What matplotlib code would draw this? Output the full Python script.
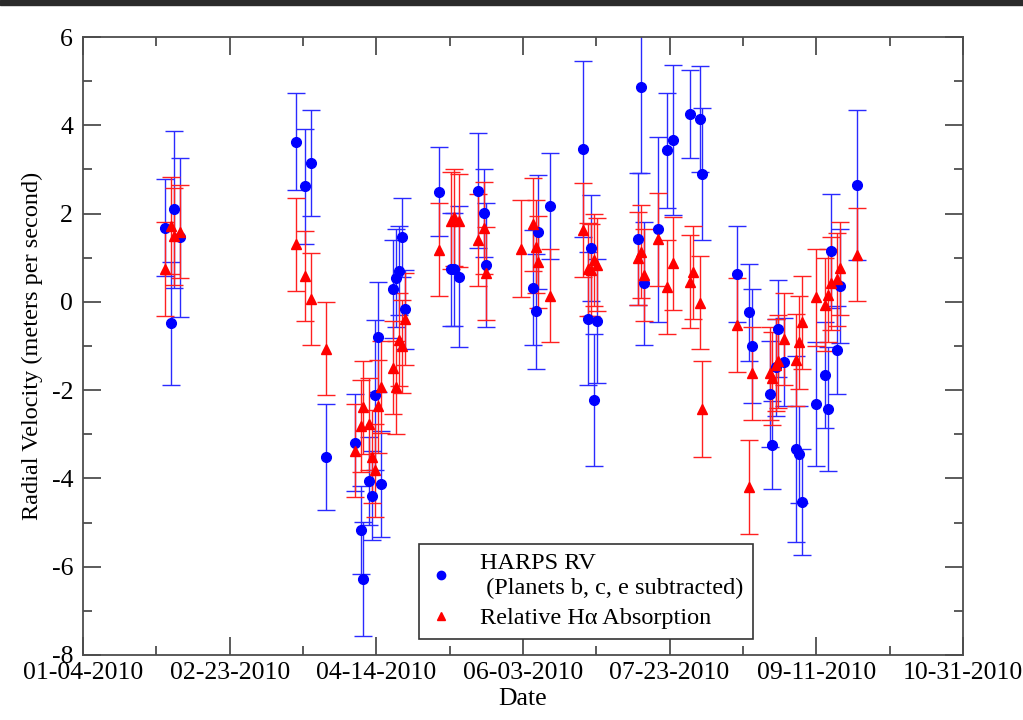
import numpy as np
import pandas as pd
import matplotlib
matplotlib.use("Agg")
import matplotlib.pyplot as plt
import matplotlib.dates as mdates
from matplotlib.ticker import MultipleLocator, FixedLocator
from matplotlib.lines import Line2D

# days after 2010-01-04 for each spectrum
days = [27.8, 30.0, 31.0, 33.1,
        72.7, 75.7, 77.8, 82.9,
        92.7, 94.8, 95.6, 97.6, 98.7, 99.5, 100.7, 101.7, 105.6, 106.8, 107.8, 108.6, 109.8,
        121.5, 125.6, 126.5, 128.3, 134.6, 136.6, 137.5, 149.4, 153.4, 154.3, 155.2, 159.3,
        170.3, 172.3, 173.2, 174.3, 175.4, 189.3, 190.1, 191.3, 196.1, 199.2, 201.2, 207.1, 208.0, 210.3, 211.1,
        223.1, 227.1, 228.1, 234.1, 235.0, 236.1, 237.1, 239.1, 243.1, 244.0, 245.1, 250.0, 252.9, 254.1, 255.1, 257.0, 258.2, 264.0]

rv = [1.68, -0.49, 2.10, 1.46,
      3.63, 2.62, 3.14, -3.51,
      -3.19, -5.17, -6.28, -4.06, -4.39, -2.12, -0.79, -4.12, 0.29, 0.54, 0.71, 1.46, -0.17,
      2.50, 0.74, 0.74, 0.57, 2.52, 2.01, 0.84, np.nan, 0.32, -0.21, 1.58, 2.18,
      3.46, -0.38, 1.21, -2.22, -0.43, 1.42, 4.86, 0.42, 1.64, 3.43, 3.67, 4.26, np.nan, 4.14, 2.89,
      0.63, -0.24, -1.00, -2.09, -3.24, -1.48, -0.61, -1.37, -3.33, -3.45, -4.53, -2.31, -1.66, -2.43, 1.15, -1.09, 0.36, 2.64]

rv_err = [1.1, 1.4, 1.78, 1.8,
          1.1, 1.3, 1.2, 1.2,
          1.1, 1.0, 1.3, 1.0, 1.0, 1.7, 1.25, 1.2, 1.1, 1.1, 1.0, 0.9, 0.9,
          1.0, 1.28, 1.28, 1.6, 1.3, 1.0, 1.4, np.nan, 1.3, 1.3, 1.3, 1.2,
          2.0, 1.5, 1.2, 1.5, 1.4, 1.5, 1.95, 1.4, 2.1, 1.3, 1.7, 1.0, np.nan, 1.2, 1.5,
          1.08, 1.09, 1.3, 1.2, 1.0, 1.1, 1.1, 1.0, 2.1, 1.1, 1.2, 1.4, 1.2, 1.4, 1.3, 1.0, 1.3, 1.7]

halpha = [0.74, 1.72, 1.49, 1.59,
          1.30, 0.58, 0.06, -1.06,
          -3.37, -2.81, -2.39, -2.77, -3.51, -3.82, -2.37, -1.93, -1.49, -1.94, -0.86, -1.01, -0.39,
          1.18, 1.84, 1.92, 1.84, 1.40, 1.67, 0.65, 1.20, 1.76, 1.25, 0.90, 0.14,
          1.63, 0.74, 0.72, 0.95, 0.84, 0.99, 1.14, 0.61, 1.42, 0.34, 0.87, 0.46, 0.67, -0.02, -2.43,
          -0.53, -4.20, -1.62, -1.62, -1.73, -1.43, -1.35, -0.84, -1.32, -0.92, -0.46, 0.10, -0.06, 0.15, 0.42, 0.51, 0.76, 1.07]

halpha_err = [1.07, 1.1, 1.1, 1.05,
              1.05, 1.02, 1.04, 1.05,
              1.05, 1.05, 1.05, 1.05, 1.05, 1.05, 1.05, 1.05, 1.05, 1.05, 1.05, 1.05, 1.05,
              1.05, 1.1, 1.1, 1.05, 1.05, 1.05, 1.05, 1.1, 1.05, 1.05, 1.05, 1.06,
              1.07, 1.05, 1.05, 1.05, 1.05, 1.05, 1.05, 1.05, 1.05, 1.06, 1.05, 1.05, 1.05, 1.05, 1.08,
              1.07, 1.07, 1.05, 1.05, 1.05, 1.05, 1.05, 1.05, 1.05, 1.05, 1.05, 1.1, 1.05, 1.05, 1.05, 1.05, 1.05, 1.05]

labels = ['HARPS RV\n (Planets b, c, e subtracted)', 'Relative H\u03b1 Absorption']

start = pd.Timestamp("2010-01-04")
end = pd.Timestamp("2010-10-31")
dates = start + pd.to_timedelta(days, unit="D")

plt.rcParams['font.family'] = ['Liberation Serif', 'DejaVu Serif']
plt.rcParams['axes.unicode_minus'] = False

fig = plt.figure(figsize=(10.23, 7.2), dpi=100)
ax = fig.add_axes([0.0811, 0.0903, 0.8602, 0.8583])

blue = '#0000ff'
red = '#ff0000'
ax.errorbar(dates, rv, yerr=rv_err, fmt='o', color=blue, ecolor='#2a2aff',
            markersize=7, elinewidth=1.0, capsize=6.5, capthick=1.0)
ax.errorbar(dates, halpha, yerr=halpha_err, fmt='^', color=red, ecolor='#ff2020',
            markersize=7.5, elinewidth=1.0, capsize=6.5, capthick=1.0)

ax.set_xlim(start, end)
ax.set_ylim(-8, 6)
ax.xaxis.set_major_locator(FixedLocator(mdates.date2num(pd.date_range(start, end, freq='50D'))))
ax.xaxis.set_minor_locator(FixedLocator(mdates.date2num(pd.date_range(start, end, freq='25D'))))
ax.xaxis.set_major_formatter(mdates.DateFormatter('%m-%d-%Y'))
ax.yaxis.set_major_locator(MultipleLocator(2))
ax.yaxis.set_minor_locator(MultipleLocator(1))

ax.tick_params(which='both', direction='in', top=True, right=True, labelsize=18.5, color='0.25', width=1.2)
ax.tick_params(which='major', length=13)
ax.tick_params(which='minor', length=6.5)
ax.tick_params(axis='x', pad=5)
ax.tick_params(axis='y', pad=7)
for s in ax.spines.values():
    s.set_linewidth(1.3)
    s.set_color('0.3')

ax.set_xlabel('Date', fontsize=18.5, labelpad=3)
ax.set_ylabel('Radial Velocity (meters per second)', fontsize=17.5, labelpad=6)

handles = [Line2D([], [], linestyle='none', marker='o', color=blue, markersize=6),
           Line2D([], [], linestyle='none', marker='^', color=red, markersize=6)]
leg = ax.legend(handles, labels, loc='lower left', bbox_to_anchor=(0.382, 0.026),
                borderaxespad=0, fontsize=17.5, fancybox=False, edgecolor='0.2',
                framealpha=1, handlelength=1.0, handletextpad=1.1, borderpad=0.4,
                labelspacing=0.35)
leg.get_frame().set_linewidth(1.2)

fig.patches.append(plt.Rectangle((0, 0.993), 1, 0.007, transform=fig.transFigure,
                                 color='#2b2b2b', zorder=-1))

fig.savefig('out.png', dpi=100)
